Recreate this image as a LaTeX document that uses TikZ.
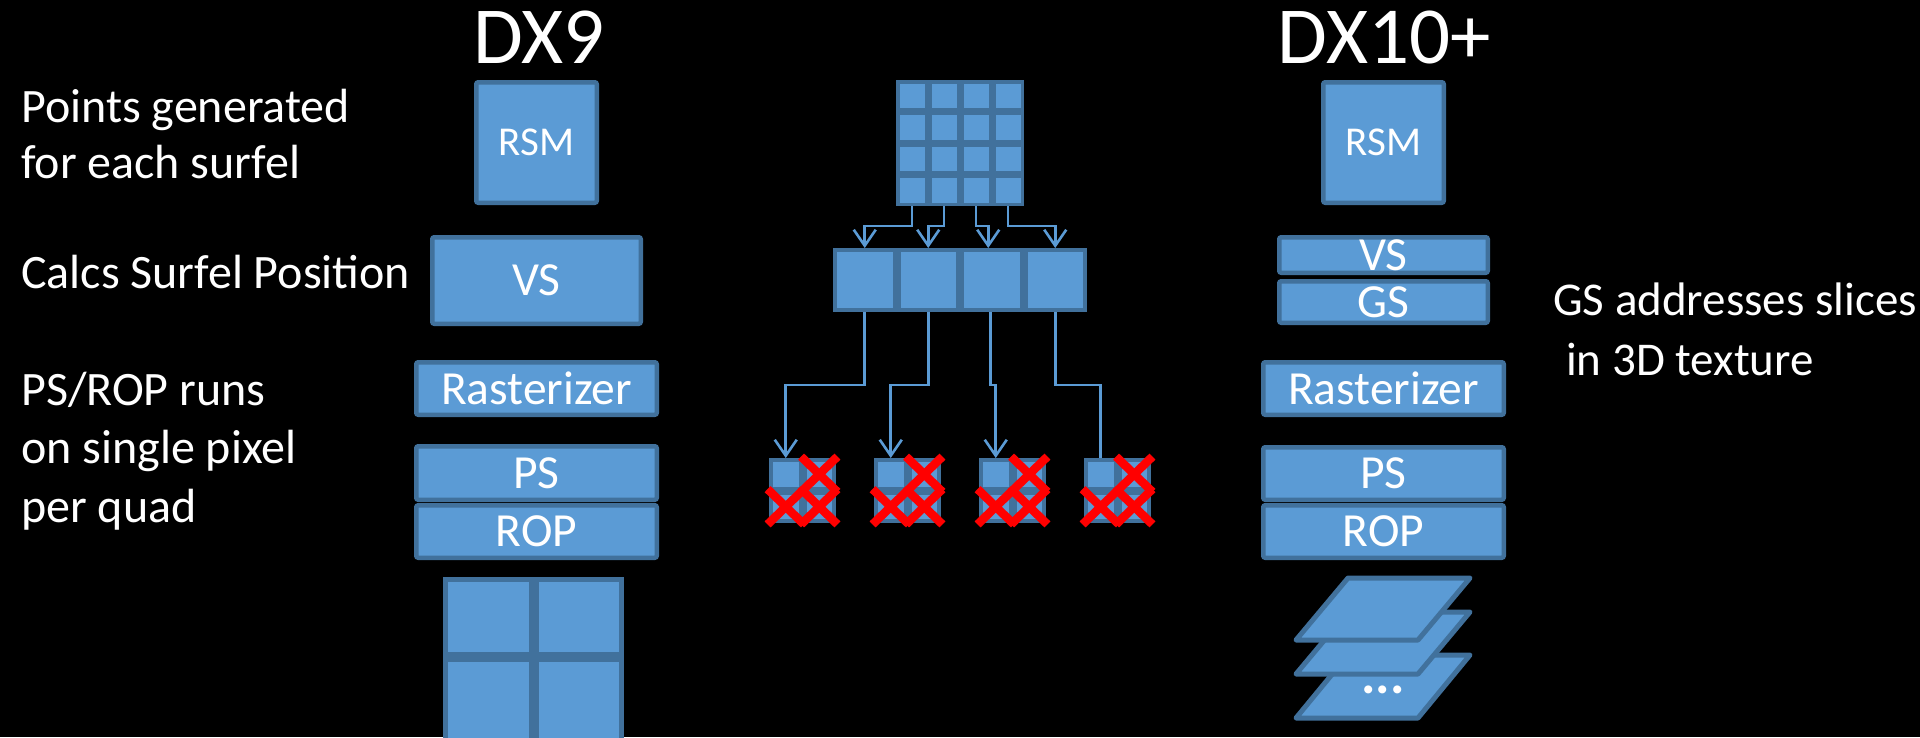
\documentclass[tikz,border=0pt]{standalone}
\usepackage{fontspec}
\setmainfont{Carlito}
\usetikzlibrary{arrows.meta,calc}
\definecolor{blu}{HTML}{5B9BD5}
\definecolor{bord}{HTML}{41719C}
\definecolor{xred}{HTML}{FF0000}
\begin{document}
\begin{tikzpicture}[x=1pt,y=-1pt,
  blk/.style={draw=bord, fill=blu, line width=4.5pt, rounded corners=2pt, inner sep=0pt, text=white, font=\fontsize{47.5}{47.5}\selectfont},
  box/.style 2 args={blk, minimum width=#1pt, minimum height=#2pt},
  cell/.style 2 args={draw=bord, fill=blu, line width=#1pt, inner sep=0pt, minimum width=#2pt},
  lbl/.style={text=white, inner sep=0pt, anchor=base west, font=\fontsize{48}{48}\selectfont},
  ttl/.style={text=white, inner sep=0pt, anchor=base, font=\fontsize{81}{81}\selectfont},
  conn/.style={draw=blu, line width=2.6pt},
  arr/.style={-{Straight Barb[length=16pt,width=22pt]}},
  xline/.style={draw=xred, line width=8.5pt, shorten <=-2pt, shorten >=-2pt},
  sheet/.style={draw=bord, fill=blu, line width=5pt, line join=round}
]
\useasboundingbox (0,0) rectangle (1920,737);
\fill[black] (0,0) rectangle (1920,737);

% titles
\node[ttl] (t9) at (539,63) {DX9};
\node[ttl] (t10) at (1384.5,63) {DX10+};

% left descriptions
\node[lbl] (l1) at (21,122) {Points generated};
\node[lbl] (l2) at (21,178) {for each surfel};
\node[lbl] (l3) at (21,288) {Calcs Surfel Position};
\node[lbl] (l4) at (21,405) {PS/ROP runs};
\node[lbl] (l5) at (21,463) {on single pixel};
\node[lbl] (l6) at (21,522) {per quad};

% right description
\node[lbl, font=\fontsize{47}{47}\selectfont] (r1t) at (1553,315) {GS addresses slices};
\node[lbl, font=\fontsize{47}{47}\selectfont] (r2t) at (1566,375) {in 3D texture};

% DX9 pipeline
\node[box={120.5}{120.5}, font=\fontsize{41}{41}\selectfont] (rsm9) at (536.5,142.5) {RSM};
\node[box={208.5}{86.5}] (vs9) at (536.5,280.5) {VS};
\node[box={240.5}{52.5}] (ras9) at (536.5,388.5) {Rasterizer};
\node[box={240.5}{53.5}] (ps9) at (536.5,473) {PS};
\node[box={240.5}{52.5}] (rop9) at (536.5,531.5) {ROP};
% DX9 render target 2x2
\node[cell={5}{85.5}, minimum height=75pt] (q1) at (488.25,617) {};
\node[cell={5}{85.5}, minimum height=75pt] (q2) at (578.75,617) {};
\node[cell={5}{85.5}, minimum height=88pt] (q3) at (488.25,703.5) {};
\node[cell={5}{85.5}, minimum height=88pt] (q4) at (578.75,703.5) {};

% DX10+ pipeline
\node[box={120.5}{120.5}, font=\fontsize{41}{41}\selectfont] (rsm10) at (1383.5,142.5) {RSM};
\node[box={208.5}{35.5}] (vs10) at (1383.5,255) {VS};
\node[box={208.5}{41.5}] (gs10) at (1383.5,302) {GS};
\node[box={240.5}{52.5}] (ras10) at (1383.5,388.5) {Rasterizer};
\node[box={240.5}{52.5}] (ps10) at (1383.5,473.5) {PS};
\node[box={240.5}{52.5}] (rop10) at (1383.5,531.5) {ROP};

% 3D texture slices
\draw[sheet] (1348,655) -- (1470,655) -- (1418,718) -- (1296,718) -- cycle;
\draw[sheet] (1348,612) -- (1470,612) -- (1418,674) -- (1296,674) -- cycle;
\draw[sheet] (1348,578) -- (1470,578) -- (1418,640) -- (1296,640) -- cycle;
\node[text=white, inner sep=0pt, font=\bfseries\fontsize{54}{54}\selectfont] (dots) at (1383,690) {...};

% middle: 4x4 grid
\foreach \i/\x in {1/912,2/944,3/976,4/1008}{
  \foreach \j/\y in {1/95.75,2/127.25,3/158.75,4/190.25}{
    \node[cell={3.5}{28.5}, minimum height=28pt] (g\i\j) at (\x,\y) {};
  }
}
% row of 4
\foreach \k/\x in {1/864.75,2/928.25,3/991.75,4/1055.25}{
  \node[cell={4}{59.5}, minimum height=60pt] (r\k) at (\x,280) {};
}
% small 2x2 boxes with crosses
\foreach \k/\L in {1/769,2/874,3/979,4/1084}{
  \node[cell={4}{29.5}, minimum height=28.5pt] (s\k a) at (\L+16.75,474.25) {};
  \node[cell={4}{29.5}, minimum height=28.5pt] (s\k b) at (\L+50.25,474.25) {};
  \node[cell={4}{29.5}, minimum height=28.5pt] (s\k c) at (\L+16.75,506.75) {};
  \node[cell={4}{29.5}, minimum height=28.5pt] (s\k d) at (\L+50.25,506.75) {};
  \foreach \c in {b,c,d}{
    \draw[xline] (s\k\c.north west) -- (s\k\c.south east);
    \draw[xline] (s\k\c.north east) -- (s\k\c.south west);
  }
}

% helper coordinates for the slightly offset third connectors
\coordinate (r3in) at ($(r3.north)+(-3.5,0)$);
\coordinate (r3out) at ($(r3.south)+(-1.5,0)$);

% connectors grid -> row
\draw[conn,arr] (g14.south) |- (r1.north |- 0,226) -- (r1.north);
\draw[conn,arr] (g24.south) |- (r2.north |- 0,226) -- (r2.north);
\draw[conn,arr] (g34.south) |- (r3in |- 0,226) -- (r3in);
\draw[conn,arr] (g44.south) |- (r4.north |- 0,226) -- (r4.north);
% connectors row -> small boxes
\draw[conn,arr] (r1.south) |- (s1a.north |- 0,385) -- (s1a.north);
\draw[conn,arr] (r2.south) |- (s2a.north |- 0,385) -- (s2a.north);
\draw[conn,arr] (r3out) |- (s3a.north |- 0,385) -- (s3a.north);
\draw[conn] (r4.south) |- (s4a.north |- 0,385) -- (s4a.north);
\end{tikzpicture}
\end{document}
